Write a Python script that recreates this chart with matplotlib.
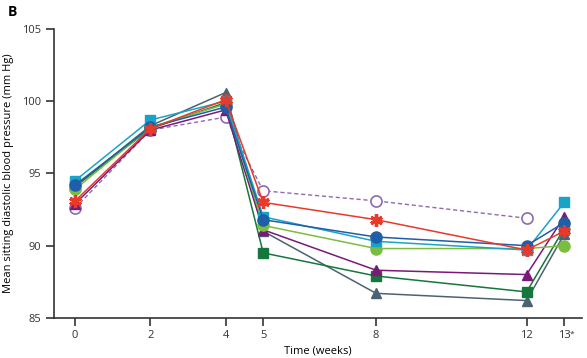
import numpy as np
import matplotlib.pyplot as plt

plt.rcParams['font.family'] = ['Open Sans', 'DejaVu Sans']

weeks = [0, 2, 4, 5, 8, 12, 13]
week_labels = ['0', '2', '4', '5', '8', '12', '13']

# mean sitting diastolic BP per group (mm Hg)
cyan_sq = [94.5, 98.7, 100.0, 92.0, 90.3, 89.7, 93.0]
blue_circ = [94.2, 98.2, 99.6, 91.8, 90.6, 90.0, 91.6]
green_circ = [93.9, 98.2, 99.8, 91.4, 89.8, 89.8, 90.0]
red_star = [93.1, 98.1, 100.1, 93.0, 91.8, 89.7, 91.0]
purple_tri = [92.9, 98.0, 99.4, 91.1, 88.3, 88.0, 92.0]
dgreen_sq = [94.1, 98.1, 99.9, 89.5, 87.9, 86.8, 91.2]
slate_tri = [94.1, 98.3, 100.6, 91.0, 86.7, 86.2, 90.8]
placebo_weeks = [0, 2, 4, 5, 8, 12]
placebo = [92.6, 98.0, 98.9, 93.8, 93.1, 91.9]

fig = plt.figure(figsize=(5.87, 3.58), dpi=100)
ax = fig.add_axes([0.092, 0.112, 0.9, 0.807])

ms = 7
ax.plot(placebo_weeks, placebo, '--o', color='#8c6bb1', mfc='white', mec='#8c6bb1',
        ms=ms + 1, lw=1, mew=1.2, dashes=(3, 2), zorder=2)
ax.plot(weeks, slate_tri, '-^', color='#4a6272', ms=ms, lw=1.1)
ax.plot(weeks, dgreen_sq, '-s', color='#15773c', ms=ms, lw=1.1)
ax.plot(weeks, purple_tri, '-^', color='#7a1a78', ms=ms, lw=1.1)
ax.plot(weeks, green_circ, '-o', color='#7bbd3f', ms=ms + 1, lw=1.1)
ax.plot(weeks, cyan_sq, '-s', color='#1aa3c8', ms=ms, lw=1.1)
ax.plot(weeks, blue_circ, '-o', color='#1f5ea8', ms=ms + 1, lw=1.1)
ax.plot(weeks, red_star, '-', color='#e8392b', lw=1.1)
ax.plot(weeks, red_star, linestyle='none', marker=(6, 2, 0), color='#e8392b',
        ms=ms + 2, mew=2.4)

ax.set_xlim(-0.56, 13.48)
ax.set_ylim(85, 105)
ax.set_yticks([85, 90, 95, 100, 105])
ax.set_xticks(weeks)
ax.set_xticklabels(week_labels)

for s in ['top', 'right']:
    ax.spines[s].set_visible(False)
for s in ['left', 'bottom']:
    ax.spines[s].set_color('#333333')
    ax.spines[s].set_linewidth(1.2)
ax.tick_params(colors='#333333', labelsize=8, length=6, width=1.2, pad=3)

# small raised asterisk after the last tick label
ax.annotate('*', xy=(13, 0), xycoords=('data', 'axes fraction'),
            xytext=(4, -12), textcoords='offset points',
            fontsize=6, color='#333333', ha='left', va='center')

ax.set_xlabel('Time (weeks)', fontsize=8, labelpad=3)
ax.set_ylabel('Mean sitting diastolic blood pressure (mm Hg)', fontsize=8, labelpad=6)
fig.text(0.014, 0.955, 'B', fontsize=10, fontweight='bold')

fig.savefig('out.png', dpi=100)
